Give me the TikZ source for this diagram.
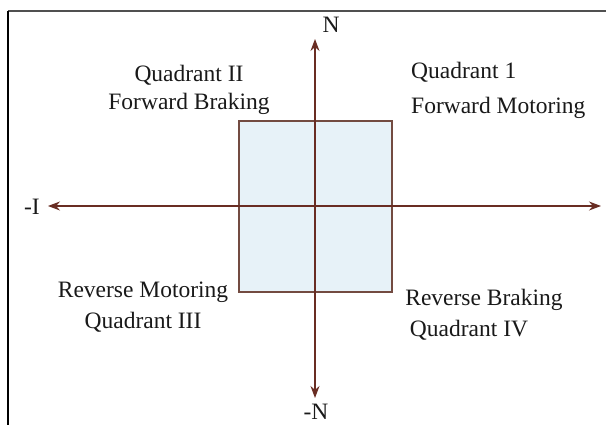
\documentclass[tikz,border=0pt]{standalone}
\usepackage{fontspec}
\setmainfont{Liberation Serif}
\usetikzlibrary{arrows.meta}
\definecolor{axiscol}{RGB}{105,45,35}
\definecolor{boxfill}{RGB}{231,242,248}
\definecolor{boxline}{RGB}{115,75,65}
\definecolor{framegray}{RGB}{80,80,80}
\tikzset{
  lbl/.style={font=\fontsize{23.5}{26}\selectfont, inner sep=0pt, text=black!90},
  axisline/.style={draw=axiscol, line width=1.2pt, -{Stealth[length=12pt,width=9pt]}},
  quadbox/.style={draw=boxline, fill=boxfill, line width=1.2pt},
}
\begin{document}
\begin{tikzpicture}[x=1pt,y=-1pt]
\useasboundingbox (0,0) rectangle (606,425);
% frame
\draw[framegray, line width=2pt] (8,11) -- (606,11);
\draw[black, line width=1.6pt] (8,11) -- (8,425);
% box
\draw[quadbox] (239,121) rectangle (392,292);
% axes
\coordinate (O) at (315,206);
\coordinate (T) at (315,39);
\coordinate (B) at (315,398);
\coordinate (L) at (48,206);
\coordinate (R) at (601,206);
\draw[axisline] (O) -- (T);
\draw[axisline] (O) -- (B);
\draw[axisline] (O) -- (L);
\draw[axisline] (O) -- (R);
% axis labels
\node[lbl] (n) at (331,25) {N};
\node[lbl] (mn) at (316,412) {-N};
\node[lbl] (mi) at (32,207) {-I};
% quadrant labels
\node[lbl] (q2a) at (189,75) {Quadrant II};
\node[lbl] (q2b) at (189,104) {Forward Braking};
\node[lbl, anchor=west] (q1a) at (411,72) {Quadrant 1};
\node[lbl, anchor=west] (q1b) at (411,108) {Forward Motoring};
\node[lbl] (q3a) at (143,292) {Reverse Motoring};
\node[lbl] (q3b) at (143,322) {Quadrant III};
\node[lbl] (q4a) at (484,300) {Reverse Braking};
\node[lbl] (q4b) at (469,330) {Quadrant IV};
\end{tikzpicture}
\end{document}
